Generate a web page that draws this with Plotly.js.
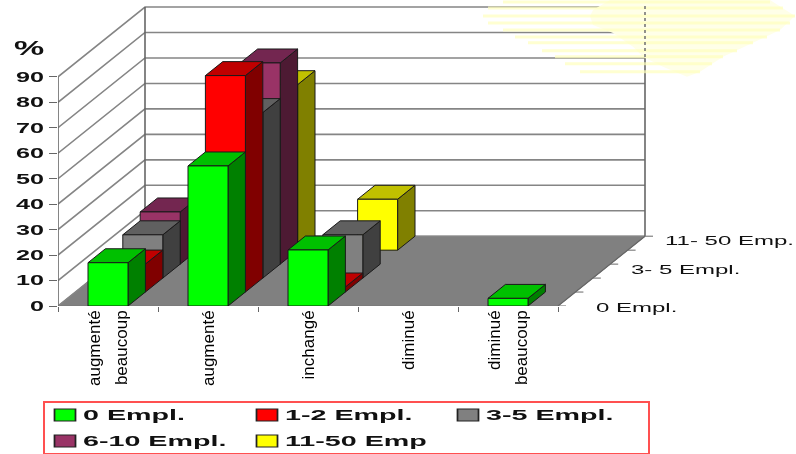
<!DOCTYPE html>
<html><head><meta charset="utf-8">
<script src="https://cdn.plot.ly/plotly-3.0.1.min.js"></script>
<style>html,body{margin:0;padding:0;background:#fff}#c{width:796px;height:454px;filter:blur(0.45px)}</style>
</head><body><div id="c"></div>
<script>
const categories = ["augmenté<br>beaucoup","augmenté","inchangé","diminué","diminué<br>beaucoup"];
const seriesNames = ["0 Empl.","1-2 Empl.","3-5 Empl.","6-10 Empl.","11-50 Emp"];
const emp0   = [17,55,22,0,3];
const emp1_2 = [11,85,2,0,0];
const emp3_5 = [17,65,17,0,0];
const emp6_10= [20.5,79,0,0,0];
const emp11_50=[0,65,20,0,0];
const valueTicks = [0,10,20,30,40,50,60,70,80,90];
const depthLabels = ["0 Empl.","3- 5 Empl.","11- 50 Emp."];

const allSeries=[emp0,emp1_2,emp3_5,emp6_10,emp11_50];
const frontCol=["#00ff00","#ff0000","#808080","#993366","#ffff00"];
const topCol  =["#00c000","#c00000","#606060","#732650","#c0c000"];
const sideCol =["#008000","#800000","#404040","#4d1a33","#808000"];

// oblique projection through the axes' own data coordinates
const PXU=100, PYU=2.555, X0=58, Y0=307, DX=0.174, DY=14/2.555;
const W=796,H=454;
const P=(c,k,v)=>[c+k*DX, v+k*DY];
const Xp=p=>(p-X0)/PXU, Yp=p=>(Y0-p)/PYU;
const Xf=p=>(p-X0)/(W-X0), Yf=p=>(Y0-p)/Y0;
function poly(list){const x=[],y=[];list.forEach(pts=>{pts.forEach(p=>{x.push(p[0]);y.push(p[1])});x.push(pts[0][0]);y.push(pts[0][1]);x.push(null);y.push(null)});return {x,y}}
const base={type:'scatter',mode:'lines',hoverinfo:'skip',showlegend:false};
const traces=[];
// legend keys
seriesNames.forEach((n,i)=>traces.push({type:'bar',x:[-50],y:[1],name:n,marker:{color:frontCol[i],line:{color:'#222',width:1}},hoverinfo:'skip',showlegend:true}));
// floor
traces.push({...base,...poly([[P(0,0,0),P(5,0,0),P(5,5,0),P(0,5,0)]]),fill:'toself',fillcolor:'#808080',line:{color:'#777',width:1}});
// walls' grid
valueTicks.forEach(v=>{const a=P(0,0,v),b=P(0,5,v),c=P(5,5,v);
  traces.push({...base,x:[a[0],b[0],c[0]],y:[a[1],b[1],c[1]],line:{color:'#858585',width:1.6}})});
[[0,0],[0,5],[5,5]].forEach(q=>{const a=P(q[0],q[1],0),b=P(q[0],q[1],90);
  traces.push({...base,x:[a[0],b[0]],y:[a[1],b[1]],line:{color:'#666',width:1.6}})});
// depth ticks
for(let k=0;k<=5;k++){const a=P(5,k,0);traces.push({...base,x:[a[0],a[0]+0.08],y:[a[1],a[1]],line:{color:'#808080',width:1.2}})}
{const a=P(5,0,0),b=P(5,5,0);traces.push({...base,x:[a[0],b[0]],y:[a[1],b[1]],line:{color:'#666',width:1.2}})}
// bars, back to front
for(let k=4;k>=0;k--){
  const vals=allSeries[k],f=[],t=[],s=[];
  vals.forEach((v,c)=>{if(!v)return;const l=c+.3,r=c+.7;
    f.push([P(l,k,0),P(r,k,0),P(r,k,v),P(l,k,v)]);
    t.push([P(l,k,v),P(r,k,v),P(r,k+1,v),P(l,k+1,v)]);
    s.push([P(r,k,0),P(r,k+1,0),P(r,k+1,v),P(r,k,v)]);});
  [[s,sideCol],[t,topCol],[f,frontCol]].forEach(o=>traces.push({...base,...poly(o[0]),fill:'toself',fillcolor:o[1][k],line:{color:'#1a1a1a',width:1}}));
}
// pale striped decoration, top right
const stripeY=[2,8,16,23,30,37,43,51,57,64,72];
const stripeL=[503,488,483,488,503,515,528,542,555,565,580];
const stripeR=[770,783,795,790,780,767,753,737,723,712,700];
const shapes=[];
shapes.push({type:'path',xref:'x',yref:'y',layer:'above',line:{width:0},fillcolor:'#ffffe8',
  path:[[610,0],[593,10],[590,16],[593,25],[613,33],[633,47],[643,57],[663,67],[687,77],[700,72],[723,57],[753,43],[780,30],[795,16],[770,0]].map((p,i)=>(i?'L':'M')+Xp(p[0])+','+Yp(p[1])).join(' ')+' Z'});
stripeY.forEach((y,i)=>shapes.push({type:'line',xref:'x',yref:'y',layer:'above',x0:Xp(stripeL[i]),x1:Xp(stripeR[i]),y0:Yp(y),y1:Yp(y),line:{color:'rgba(255,255,190,0.7)',width:3}}));
shapes.push({type:'line',xref:'x',yref:'y',layer:'above',x0:Xp(645),x1:Xp(645),y0:Yp(6),y1:Yp(58),line:{color:'#777',width:1.6,dash:'dot'}});

const fam='"Liberation Sans",Arial,sans-serif';
const note=(x,y,text,size,weight)=>({xref:'paper',yref:'paper',x:Xf(x),y:Yf(y),text,showarrow:false,xanchor:'left',yanchor:'middle',font:{family:fam,size,weight,color:'#111'}});
const ann=[note(12,48,'%',20,700),note(594,309,depthLabels[0],12,400),note(629,271,depthLabels[1],12,400),note(663,242,depthLabels[2],12,400)];
const layout={width:W,height:H,margin:{l:X0,r:0,t:0,b:H-Y0,pad:0},paper_bgcolor:'#fff',plot_bgcolor:'#fff',
 xaxis:{range:[0,(W-X0)/PXU],tickmode:'array',tickvals:[.5,1.5,2.5,3.5,4.5],ticktext:categories,tickangle:-90,ticks:'',showgrid:false,zeroline:false,showline:false,
   tickfont:{family:fam,size:17,color:'#000'},ticklabelstandoff:0,fixedrange:true,
   minor:{tickmode:'array',tickvals:[0,1,2,3,4,5],ticks:'outside',ticklen:5,tickcolor:'#666',tickwidth:1.2,showgrid:false}},
 yaxis:{range:[0,Y0/PYU],tickmode:'array',tickvals:valueTicks,ticks:'outside',ticklen:8,tickcolor:'#666',tickwidth:1.4,showgrid:false,zeroline:false,showline:false,
   tickfont:{family:fam,size:14,weight:700,color:'#111'},fixedrange:true,ticklabelstandoff:2},
 showlegend:true,
 legend:{orientation:'h',x:-0.02,y:-0.3,xanchor:'left',yanchor:'top',bgcolor:'#fff',bordercolor:'#ff5050',borderwidth:1.6,entrywidth:200,entrywidthmode:'pixels',
   font:{family:fam,size:14,weight:700,color:'#111'},itemclick:false,itemdoubleclick:false,traceorder:'normal'},
 shapes:shapes,annotations:ann,bargap:0};

function stretch(el,s,side){
  const b=el.getBBox();const ax=side==='r'?b.x+b.width:b.x;
  const old=el.getAttribute('transform')||'';
  el.setAttribute('transform',old+` translate(${ax},0) scale(${s},1) translate(${-ax},0)`);
}
Plotly.newPlot('c',traces,layout,{displayModeBar:false}).then(gd=>{
  gd.querySelectorAll('.ytick text').forEach(e=>stretch(e,1.8,'r'));
  gd.querySelectorAll('.annotation-text').forEach(e=>stretch(e,e.textContent==='%'?1.7:2,'l'));
  // widen the spacing of two-line category labels
  gd.querySelectorAll('.xtick text').forEach(e=>{
    const ls=e.querySelectorAll('tspan.line');
    if(ls.length===2){ls.forEach((t,i)=>{const y=parseFloat(t.getAttribute('y'));t.setAttribute('y',y+(i?2.5:-2.5));});}
  });
  const leg=gd.querySelector('.legend');
  leg.setAttribute('transform','translate(43,401)');
  const bg=leg.querySelector('.bg');bg.setAttribute('width',605);bg.setAttribute('height',52);
  leg.querySelector('.scrollbox').removeAttribute('clip-path');
  const colX=[0,202,403],rowY=[14,40];
  leg.querySelectorAll('.traces').forEach((t,i)=>{
    t.setAttribute('transform',`translate(${colX[i%3]},${rowY[Math.floor(i/3)]})`);
    const p=t.querySelector('.legendpoints path');
    if(p)p.setAttribute('transform','translate(22,0) scale(1.75,1)');
    const tx=t.querySelector('.legendtext');
    if(tx){tx.setAttribute('x',40);stretch(tx,2.05,'l');}
  });
});
</script></body></html>
